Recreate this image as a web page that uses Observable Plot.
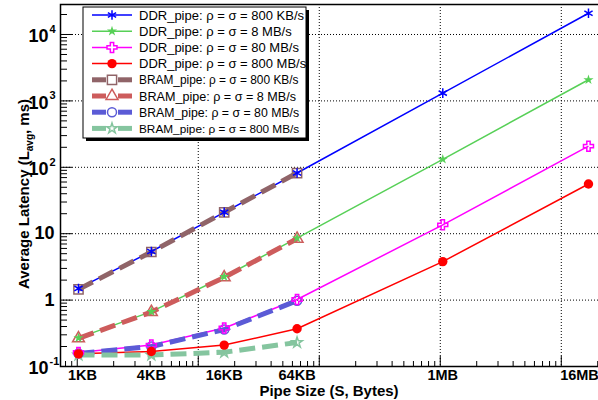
<!DOCTYPE html>
<html><head><meta charset="utf-8">
<script src="https://cdn.jsdelivr.net/npm/d3@7"></script>
<script src="https://cdn.jsdelivr.net/npm/@observablehq/plot@0.6"></script>
<style>
html,body{margin:0;padding:0;background:#fff;overflow:hidden;width:598px;height:400px;}
#chart{position:relative;width:598px;height:400px;overflow:hidden;}
#chart svg{font-family:"Liberation Sans",Arial,Helvetica,sans-serif;max-width:none !important;display:block;}
</style></head><body><div id="chart"></div>
<script>
// ---- data ----
const sizesBytes = [1024, 4096, 16384, 65536, 1048576, 16777216];
const sizeLabels = ["1KB", "4KB", "16KB", "64KB", "1MB", "16MB"];

const ddr800KB = [1.5, 5.4, 21, 82, 1310, 20900];
const ddr8MB   = [0.27, 0.67, 2.25, 8.6, 132, 2080];
const ddr80MB  = [0.163, 0.21, 0.38, 1.02, 13.6, 208];
const ddr800MB = [0.155, 0.168, 0.21, 0.37, 3.8, 56];
const bram800KB = [1.45, 5.3, 21, 82];
const bram8MB   = [0.265, 0.66, 2.2, 8.4];
const bram80MB  = [0.157, 0.2, 0.36, 0.98];
const bram800MB = [0.149, 0.149, 0.164, 0.23];

const seriesNames = [
  "DDR_pipe: ρ = σ = 800 KB/s",
  "DDR_pipe: ρ = σ = 8 MB/s",
  "DDR_pipe: ρ = σ = 80 MB/s",
  "DDR_pipe: ρ = σ = 800 MB/s",
  "BRAM_pipe: ρ = σ = 800 KB/s",
  "BRAM_pipe: ρ = σ = 8 MB/s",
  "BRAM_pipe: ρ = σ = 80 MB/s",
  "BRAM_pipe: ρ = σ = 800 MB/s"
];
const seriesValues = [ddr800KB, ddr8MB, ddr80MB, ddr800MB, bram800KB, bram8MB, bram80MB, bram800MB];

const yTickValues = [0.1, 1, 10, 100, 1000, 10000];
const yTickBase   = ["10", "1", "10", "10", "10", "10"];
const yTickExp    = ["-1", "", "", "2", "3", "4"];
const xGridValues = [1e4, 1e5, 1e6, 1e7];
const yGridValues = [1, 10, 100, 1000, 10000];

// ---- styles ----
const styles = [
  {color: "#0000ff", symbol: "asterisk", r: 4.5, fill: "none", dashed: false, fs: 13},
  {color: "#57d057", symbol: "star", r: 3.2, fill: "#57d057", dashed: false, fs: 13},
  {color: "#ff00ff", symbol: "cross", r: 4.2, fill: "none", dashed: false, fs: 13},
  {color: "#ff0000", symbol: "circle", r: 4.7, fill: "#ff0000", dashed: false, fs: 13},
  {color: "#906468", symbol: "square", r: 5.2, fill: "none", dashed: true, fs: 11.9},
  {color: "#cd5c5c", symbol: "triangle", r: 4.4, fill: "none", dashed: true, fs: 12.6},
  {color: "#5b5bd6", symbol: "circle", r: 4.5, fill: "none", dashed: true, fs: 12.3},
  {color: "#85c59f", symbol: "star", r: 3.3, fill: "none", dashed: true, fs: 11.8}
];

const series = seriesValues.map((vals, k) =>
  vals.map((v, i) => ({x: sizesBytes[i], y: v, k})));

// ---- axis helpers ----
const xDomain = [727.1, 2.2756e7];
const yDomain = [0.1, 28300];
const W = 604, H = 400, mL = 60, mR = 0, mT = 4, mB = 34;
const frameW = W - mL - mR, frameH = H - mT - mB;

const xMajor = [1e3, 1e4, 1e5, 1e6, 1e7];
const xMinor = [];
for (const d of [1e2, 1e3, 1e4, 1e5, 1e6, 1e7]) for (let m = 2; m <= 9; m++) {
  const v = d * m; if (v > xDomain[0] && v < xDomain[1]) xMinor.push(v);
}
const yMajor = [0.1, 1, 10, 100, 1000, 10000];
const yMinor = [];
for (const d of [0.1, 1, 10, 100, 1000, 10000]) for (let m = 2; m <= 9; m++) {
  const v = d * m; if (v > yDomain[0] && v < yDomain[1]) yMinor.push(v);
}

const xTickRows = sizesBytes.map((v, i) => ({v, label: sizeLabels[i]}));
const yRows = yTickValues.map((v, i) => ({v, base: yTickBase[i], exp: yTickExp[i]}));
const xLabelStyle = {x: "v", text: "label", frameAnchor: "bottom", lineAnchor: "top", dy: 3,
  fontSize: 14.5, fontWeight: "bold", fill: "#000"};

const marks = [
  Plot.ruleX(xGridValues, {stroke: "#000", strokeWidth: 1, strokeDasharray: "1,2"}),
  Plot.ruleY(yGridValues, {stroke: "#000", strokeWidth: 1, strokeDasharray: "1,2"}),
  Plot.ruleX(xMinor, {stroke: "#000", strokeWidth: 1, insetTop: frameH - 5}),
  Plot.ruleX(xMajor, {stroke: "#000", strokeWidth: 1, insetTop: frameH - 10}),
  Plot.ruleY(yMinor, {stroke: "#000", strokeWidth: 1, insetRight: frameW - 7}),
  Plot.ruleY(yMajor, {stroke: "#000", strokeWidth: 1, insetRight: frameW - 12})
];
// DDR lines
for (let k = 0; k < 4; k++) marks.push(Plot.line(series[k], {x: "x", y: "y", stroke: styles[k].color, strokeWidth: 1.5, strokeLinecap: "butt"}));
// BRAM lines
for (let k = 4; k < 8; k++) marks.push(Plot.line(series[k], {x: "x", y: "y", stroke: styles[k].color, strokeWidth: 5, strokeDasharray: "16,7", strokeLinecap: "butt", strokeLinejoin: "miter"}));
// BRAM markers then DDR markers
for (const k of [4, 5, 6, 7, 0, 1, 2, 3]) {
  const s = styles[k];
  marks.push(Plot.dot(series[k], {x: "x", y: "y", symbol: s.symbol, r: s.r,
    fill: s.fill, stroke: s.fill === "none" ? s.color : "none", strokeWidth: 1.5}));
}
marks.push(
  Plot.frame({stroke: "#000", strokeWidth: 1.5}),
  Plot.text(xTickRows.slice(0, 1), {...xLabelStyle, dx: 4}),
  Plot.text(xTickRows.slice(1, 5), {...xLabelStyle}),
  Plot.text(xTickRows.slice(5), {...xLabelStyle, dx: -9}),
  Plot.text(yRows.filter(d => d.exp === ""), {y: "v", text: "base", frameAnchor: "left", textAnchor: "end",
    dx: -6, fontSize: 18, fontWeight: "bold", fill: "#000"}),
  Plot.text(yRows.filter(d => d.exp !== ""), {y: "v", text: "base", frameAnchor: "left", textAnchor: "end",
    dx: -12, dy: 2, fontSize: 18, fontWeight: "bold", fill: "#000"}),
  Plot.text(yRows.filter(d => d.exp !== ""), {y: "v", text: "exp", frameAnchor: "left", textAnchor: "start",
    dx: -11, dy: -5, fontSize: 11, fontWeight: "bold", fill: "#000"})
);

const svg = Plot.plot({
  width: W, height: H,
  marginLeft: mL, marginRight: mR, marginTop: mT, marginBottom: mB,
  x: {type: "log", domain: xDomain, axis: null},
  y: {type: "log", domain: yDomain, axis: null},
  style: {background: "#fff", fontFamily: "'Liberation Sans', Arial, Helvetica, sans-serif", overflow: "visible", maxWidth: "none"},
  marks
});
svg.setAttribute("width", W);
svg.style.width = W + "px";
svg.style.height = H + "px";
document.getElementById("chart").appendChild(svg);

// ---- axis titles ----
const g = d3.select(svg).append("g").attr("font-family", "'Liberation Sans', Arial, Helvetica, sans-serif").attr("fill", "#000");
g.append("text").attr("x", 329).attr("y", 396).attr("text-anchor", "middle")
  .attr("font-size", 15).attr("font-weight", "bold").text("Pipe Size (S, Bytes)");
const yt = g.append("text").attr("transform", "translate(29,194) rotate(-90)").attr("text-anchor", "middle")
  .attr("font-size", 15).attr("font-weight", "bold");
yt.append("tspan").text("Average Latency (L");
yt.append("tspan").attr("font-size", 10).attr("dy", 4).text("avg");
yt.append("tspan").attr("dy", -4).text(", ms)");

// ---- legend ----
const lx = 83, ly = 7, lw = 223, lh = 131;
const lg = d3.select(svg).append("g").attr("font-family", "'Liberation Sans', Arial, Helvetica, sans-serif").attr("text-anchor", "start");
lg.append("rect").attr("x", lx + 3).attr("y", ly + 3).attr("width", lw).attr("height", lh).attr("fill", "#000");
lg.append("rect").attr("x", lx).attr("y", ly).attr("width", lw).attr("height", lh).attr("fill", "#fff").attr("stroke", "#000").attr("stroke-width", 1);
const symMap = {asterisk: d3.symbolAsterisk, star: d3.symbolStar, cross: d3.symbolCross, circle: d3.symbolCircle, square: d3.symbolSquare, triangle: d3.symbolTriangle};
seriesNames.forEach((name, k) => {
  const s = styles[k];
  const cy = 15 + k * 16.2;
  if (s.dashed) {
    lg.append("line").attr("x1", 92).attr("x2", 106).attr("y1", cy).attr("y2", cy).attr("stroke", s.color).attr("stroke-width", 5);
    lg.append("line").attr("x1", 118).attr("x2", 132).attr("y1", cy).attr("y2", cy).attr("stroke", s.color).attr("stroke-width", 5);
  } else {
    lg.append("line").attr("x1", 92).attr("x2", 132).attr("y1", cy).attr("y2", cy).attr("stroke", s.color).attr("stroke-width", 1.5);
  }
  lg.append("path").attr("transform", `translate(112,${cy})`)
    .attr("d", d3.symbol(symMap[s.symbol], Math.PI * s.r * s.r)())
    .attr("fill", s.fill === "none" ? "#fff" : s.fill)
    .attr("stroke", s.fill === "none" ? s.color : "none").attr("stroke-width", 1.5);
  lg.append("text").attr("x", 139).attr("y", cy + 4.5).attr("font-size", s.fs).attr("fill", "#000").attr("text-anchor", "start").text(name);
});
</script>
</body></html>
